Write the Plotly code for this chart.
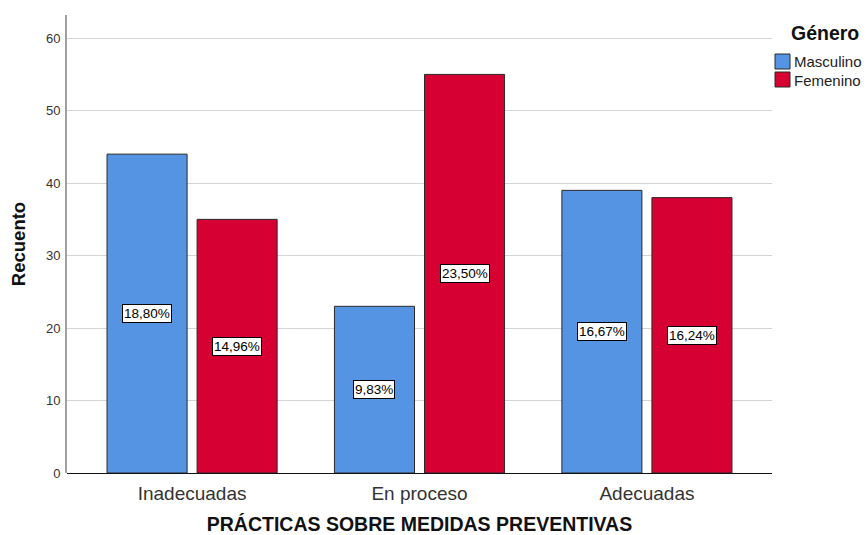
import plotly.graph_objects as go

categories = ["Inadecuadas", "En proceso", "Adecuadas"]
masculino = [44, 23, 39]
femenino = [35, 55, 38]
pct_masculino = ["18,80%", "9,83%", "16,67%"]
pct_femenino = ["14,96%", "23,50%", "16,24%"]
series_names = ["Masculino", "Femenino"]
legend_title = "Género"

BLUE = "#5593E3"
RED = "#D60032"
FONT = "Liberation Sans, Arial, sans-serif"
W = 0.352
OFFS = [-0.374, 0.022]

# plot area in pixels (for placing the hand-drawn legend)
ML, MR, MT, MB = 67, 95, 15, 62
FW, FH = 867, 535
PW, PH = FW - ML - MR, FH - MT - MB


def px(x):
    return (x - ML) / PW


def py(y):
    return (FH - MB - y) / PH


fig = go.Figure()
colors = [BLUE, RED]
for vals, name, col, off in zip((masculino, femenino), series_names, colors, OFFS):
    fig.add_trace(go.Bar(name=name, x=categories, y=vals, width=W, offset=off,
                         marker=dict(color=col, line=dict(color="#2A2A2A", width=1)),
                         showlegend=False))

annotations = []
shapes = []
for i, c in enumerate(categories):
    for vals, pcts, off in ((masculino, pct_masculino, OFFS[0]), (femenino, pct_femenino, OFFS[1])):
        annotations.append(dict(
            x=i + off + W / 2, y=vals[i] / 2, xref="x", yref="y", text=pcts[i], showarrow=False,
            font=dict(family=FONT, size=13.5, color="#000000"), bgcolor="#FFFFFF",
            bordercolor="#000000", borderwidth=1, borderpad=1))

# legend (drawn by hand so it does not shrink the plot area)
annotations.append(dict(x=px(825), y=py(33), xref="paper", yref="paper", text="<b>%s</b>" % legend_title,
                        showarrow=False, xanchor="center", yanchor="middle",
                        font=dict(family=FONT, size=19.5, color="#111111")))
for k, (name, col) in enumerate(zip(series_names, colors)):
    top = 54 + k * 18
    shapes.append(dict(type="rect", xref="paper", yref="paper",
                       x0=px(775), x1=px(790), y0=py(top + 15), y1=py(top),
                       fillcolor=col, line=dict(color="#2A2A2A", width=1)))
    annotations.append(dict(x=px(792), y=py(top + 8), xref="paper", yref="paper", text=name,
                            showarrow=False, xanchor="left", yanchor="middle",
                            font=dict(family=FONT, size=15, color="#222222")))

fig.update_layout(
    width=FW, height=FH,
    margin=dict(l=ML, r=MR, t=MT, b=MB),
    paper_bgcolor="white", plot_bgcolor="white",
    font=dict(family=FONT, color="#222222"),
    barmode="overlay",
    showlegend=False,
    annotations=annotations,
    shapes=shapes,
    xaxis=dict(
        type="category", range=[-0.55, 2.55], showgrid=False, automargin=False,
        showline=False, ticks="outside", ticklen=3, tickcolor="rgba(0,0,0,0)",
        tickfont=dict(size=19, color="#333333"),
        title=dict(text="<b>PRÁCTICAS SOBRE MEDIDAS PREVENTIVAS</b>",
                   font=dict(size=19.5, color="#111111"), standoff=18),
    ),
    yaxis=dict(
        range=[0, 63.2], tickvals=[0, 10, 20, 30, 40, 50, 60], automargin=False,
        showgrid=True, gridcolor="#D4D4D4", gridwidth=1,
        showline=True, linecolor="#A0A0A0", linewidth=2,
        zeroline=True, zerolinecolor="#111111", zerolinewidth=1,
        ticks="outside", ticklen=2, tickcolor="rgba(0,0,0,0)",
        tickfont=dict(size=13, color="#333333"),
        title=dict(text="<b>Recuento</b>", font=dict(size=18.5, color="#111111"), standoff=15),
    ),
)

fig.write_html("out.html")
